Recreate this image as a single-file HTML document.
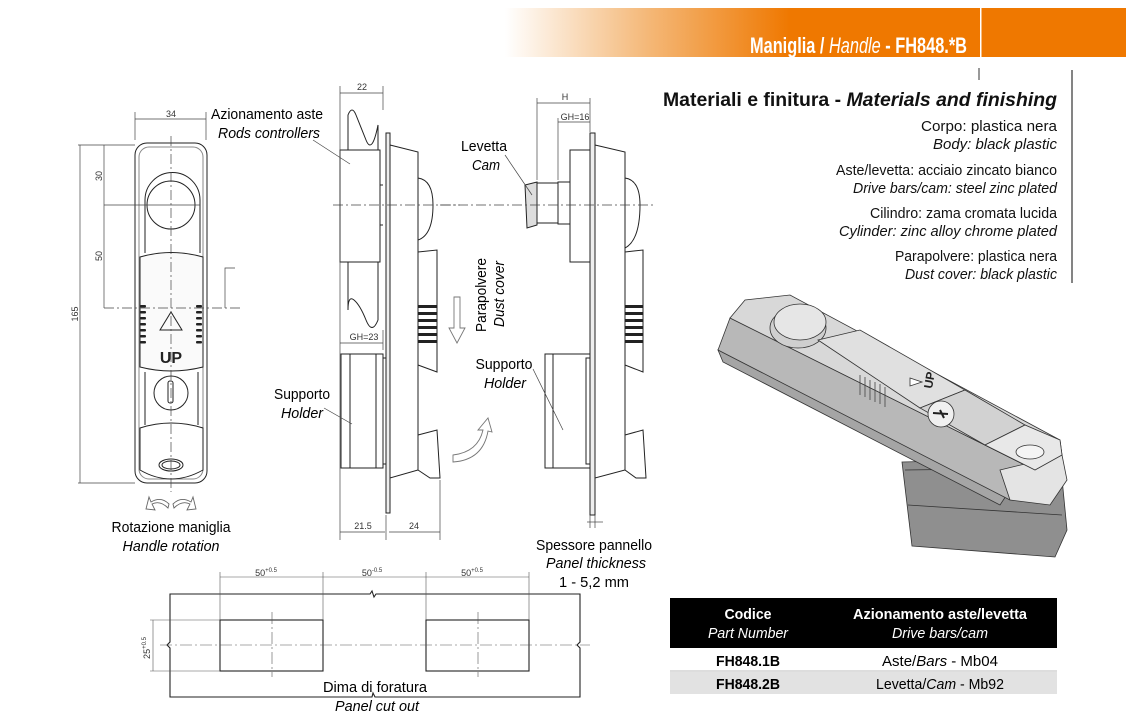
<!DOCTYPE html>
<html><head><meta charset="utf-8"><style>
html,body{margin:0;padding:0;background:#fff}
svg{display:block}
text{font-family:"Liberation Sans",sans-serif}
</style></head><body>
<svg width="1126" height="728" viewBox="0 0 1126 728" xmlns="http://www.w3.org/2000/svg">
<defs>
<linearGradient id="hg" x1="505" x2="790" y1="0" y2="0" gradientUnits="userSpaceOnUse">
<stop offset="0" stop-color="#fff"/><stop offset="0.5" stop-color="#f4b878"/><stop offset="1" stop-color="#ef7800"/></linearGradient>
</defs>
<!-- header -->
<rect x="505" y="8" width="621" height="49" fill="url(#hg)"/>
<rect x="980" y="8" width="1.5" height="49" fill="#fff"/>
<text x="967" y="53" font-size="22" font-weight="bold" fill="#fff" text-anchor="end" textLength="217" lengthAdjust="spacingAndGlyphs">Maniglia / <tspan font-style="italic" font-weight="normal">Handle</tspan> - FH848.*B</text>
<line x1="979" y1="68" x2="979" y2="80" stroke="#333"/>
<line x1="1072" y1="70" x2="1072" y2="283" stroke="#333" stroke-width="1.2"/>

<!-- materials -->
<g font-size="15" text-anchor="end" fill="#111">
<text x="1057" y="106" font-size="19" font-weight="bold" textLength="394" lengthAdjust="spacingAndGlyphs">Materiali e finitura - <tspan font-style="italic">Materials and finishing</tspan></text>
<text x="1057" y="131" textLength="136" lengthAdjust="spacingAndGlyphs">Corpo: plastica nera</text>
<text x="1057" y="149" font-style="italic" textLength="124" lengthAdjust="spacingAndGlyphs">Body: black plastic</text>
<text x="1057" y="175" textLength="221" lengthAdjust="spacingAndGlyphs">Aste/levetta: acciaio zincato bianco</text>
<text x="1057" y="193" font-style="italic" textLength="204" lengthAdjust="spacingAndGlyphs">Drive bars/cam: steel zinc plated</text>
<text x="1057" y="218" textLength="187" lengthAdjust="spacingAndGlyphs">Cilindro: zama cromata lucida</text>
<text x="1057" y="236" font-style="italic" textLength="218" lengthAdjust="spacingAndGlyphs">Cylinder: zinc alloy chrome plated</text>
<text x="1057" y="261" textLength="162" lengthAdjust="spacingAndGlyphs">Parapolvere: plastica nera</text>
<text x="1057" y="279" font-style="italic" textLength="152" lengthAdjust="spacingAndGlyphs">Dust cover: black plastic</text>
</g>

<!-- LEFT FRONT VIEW -->
<g fill="none" stroke="#222" stroke-width="1">
<rect x="135" y="143" width="72" height="340" rx="12"/>
<rect x="139" y="147" width="64" height="332" rx="10" stroke="#888"/>
<path d="M145 253 V200 a26 26 0 0 1 55 0 V253"/>
<circle cx="171" cy="205" r="24"/>
<path d="M140 257 Q171 248 203 257 V367 Q171 375 140 367 Z" fill="#fafafa"/>
<path d="M145 372 V425 M198 372 V425"/>
<circle cx="171" cy="393" r="17"/>
<rect x="168" y="381" width="5" height="22" rx="2"/>
<path d="M140 428 Q171 418 203 428 V470 Q171 488 140 470 Z"/>
<ellipse cx="171" cy="465" rx="12" ry="6"/>
<ellipse cx="171" cy="465" rx="9" ry="4"/>
<path d="M160 330 L171 312 L182 330 Z"/>
</g>
<g fill="#222">
<rect x="140" y="305" width="6" height="2.5" rx="1"/><rect x="140" y="311" width="6" height="2.5" rx="1"/><rect x="140" y="317" width="6" height="2.5" rx="1"/><rect x="140" y="323" width="6" height="2.5" rx="1"/><rect x="140" y="329" width="6" height="2.5" rx="1"/><rect x="140" y="335" width="6" height="2.5" rx="1"/><rect x="140" y="341" width="6" height="2.5" rx="1"/>
<rect x="196" y="305" width="6" height="2.5" rx="1"/><rect x="196" y="311" width="6" height="2.5" rx="1"/><rect x="196" y="317" width="6" height="2.5" rx="1"/><rect x="196" y="323" width="6" height="2.5" rx="1"/><rect x="196" y="329" width="6" height="2.5" rx="1"/><rect x="196" y="335" width="6" height="2.5" rx="1"/><rect x="196" y="341" width="6" height="2.5" rx="1"/>
</g>
<text x="171" y="363" font-size="16" font-weight="bold" text-anchor="middle" fill="#222">UP</text>
<!-- dims left -->
<g stroke="#444" stroke-width="0.7" fill="none">
<line x1="171" y1="136" x2="171" y2="492" stroke-dasharray="10 3 2 3"/>
<line x1="104" y1="205" x2="200" y2="205"/>
<line x1="104" y1="308" x2="240" y2="308" stroke-dasharray="10 3 2 3"/>
<line x1="135" y1="112" x2="135" y2="140"/><line x1="206" y1="112" x2="206" y2="140"/>
<line x1="135" y1="119" x2="206" y2="119"/>
<line x1="78" y1="145" x2="135" y2="145"/><line x1="78" y1="483" x2="135" y2="483"/>
<line x1="80" y1="145" x2="80" y2="483"/>
<line x1="104" y1="145" x2="104" y2="308"/>
<path d="M225 308 V268 H235"/>
</g>
<g font-size="9" fill="#333" text-anchor="middle">
<text x="171" y="117">34</text>
<text transform="translate(102 176) rotate(-90)">30</text>
<text transform="translate(102 256) rotate(-90)">50</text>
<text transform="translate(78 314) rotate(-90)">165</text>
</g>
<!-- rotation arrows -->
<g fill="#fff" stroke="#666" stroke-width="0.9">
<path d="M168 508 Q160 500 152 504 L155 510 L146 509 L149 497 L151 502 Q161 496 169 504 Z"/>
<path d="M174 508 Q182 500 190 504 L187 510 L196 509 L193 497 L191 502 Q181 496 173 504 Z"/>
</g>
<text x="171" y="532" font-size="15" text-anchor="middle" textLength="119" lengthAdjust="spacingAndGlyphs">Rotazione maniglia</text>
<text x="171" y="551" font-size="15" text-anchor="middle" font-style="italic" textLength="97" lengthAdjust="spacingAndGlyphs">Handle rotation</text>

<!-- SIDE VIEW 1 -->
<g fill="none" stroke="#222" stroke-width="1">
<path d="M348 115 Q352 105 356 115 T366 140 T378 125 V320 Q372 335 366 320 T354 300 T348 310 Z" fill="#fff"/>
<rect x="340" y="150" width="40" height="112" fill="#fff"/>
<line x1="380" y1="185" x2="383" y2="185"/><line x1="380" y1="225" x2="383" y2="225"/>
<rect x="386" y="133" width="4" height="380" fill="#eee"/>
<path d="M390 145 L418 152 V470 L390 478 Z" fill="#fff"/>
<path d="M418 178 Q433 180 433 205 Q433 235 418 240"/>
<path d="M418 252 L437 250 V372 L418 365 Z" fill="#fff"/>
<path d="M418 435 L437 430 L440 478 H430 L418 470"/>
<rect x="341" y="354" width="42" height="114" fill="#fff"/>
<line x1="350" y1="354" x2="350" y2="468"/>
<line x1="376" y1="354" x2="376" y2="468"/>
<rect x="383" y="358" width="3" height="106"/>
</g>
<g fill="#222"><rect x="418" y="305" width="19" height="3"/><rect x="418" y="312" width="19" height="3"/><rect x="418" y="319" width="19" height="3"/><rect x="418" y="326" width="19" height="3"/><rect x="418" y="333" width="19" height="3"/><rect x="418" y="340" width="19" height="3"/></g>
<g stroke="#444" stroke-width="0.7" fill="none">
<line x1="333" y1="205" x2="460" y2="205" stroke-dasharray="10 3 2 3"/>
<line x1="340" y1="86" x2="340" y2="540"/><line x1="383" y1="86" x2="383" y2="110"/>
<line x1="340" y1="93" x2="383" y2="93"/>
<line x1="340" y1="343" x2="383" y2="343"/>
<line x1="383" y1="330" x2="383" y2="350"/>
<line x1="340" y1="532" x2="385" y2="532"/><line x1="389" y1="532" x2="440" y2="532"/>
<line x1="386" y1="515" x2="386" y2="540"/><line x1="440" y1="480" x2="440" y2="540"/>
<line x1="313" y1="140" x2="350" y2="164"/>
<line x1="324" y1="408" x2="352" y2="424"/>
</g>
<g font-size="9" fill="#333" text-anchor="middle">
<text x="362" y="90">22</text><text x="364" y="340">GH=23</text>
<text x="363" y="529">21.5</text><text x="414" y="529">24</text>
</g>
<text x="323" y="119" font-size="15" text-anchor="end" textLength="112" lengthAdjust="spacingAndGlyphs">Azionamento aste</text>
<text x="320" y="138" font-size="15" text-anchor="end" font-style="italic" textLength="102" lengthAdjust="spacingAndGlyphs">Rods controllers</text>
<text x="330" y="399" font-size="15" text-anchor="end" textLength="56" lengthAdjust="spacingAndGlyphs">Supporto</text>
<text x="323" y="418" font-size="15" text-anchor="end" font-style="italic" textLength="42" lengthAdjust="spacingAndGlyphs">Holder</text>

<!-- SIDE VIEW 2 -->
<g fill="none" stroke="#222" stroke-width="1">
<rect x="590" y="133" width="5" height="382" fill="#eee"/>
<path d="M595 145 L625 152 V470 L595 478 Z" fill="#fff"/>
<path d="M625 178 Q640 180 640 205 Q640 240 625 248"/>
<path d="M625 252 L643 250 V372 L625 365 Z" fill="#fff"/>
<path d="M625 435 L643 430 L646 478 H636 L625 470"/>
<rect x="570" y="150" width="20" height="112" fill="#fff"/>
<rect x="558" y="182" width="12" height="42" fill="#fff"/>
<rect x="537" y="183" width="21" height="40" fill="#fff"/>
<path d="M525 185 L537 182 V225 L527 228 Z" fill="#ddd"/>
<rect x="545" y="354" width="45" height="114" fill="#fff"/>
<line x1="553" y1="354" x2="553" y2="468"/>
<rect x="586" y="358" width="4" height="106"/>
</g>
<g fill="#222"><rect x="625" y="305" width="18" height="3"/><rect x="625" y="312" width="18" height="3"/><rect x="625" y="319" width="18" height="3"/><rect x="625" y="326" width="18" height="3"/><rect x="625" y="333" width="18" height="3"/><rect x="625" y="340" width="18" height="3"/></g>
<g stroke="#444" stroke-width="0.7" fill="none">
<line x1="440" y1="205" x2="655" y2="205" stroke-dasharray="10 3 2 3"/>
<line x1="537" y1="98" x2="537" y2="180"/><line x1="590" y1="98" x2="590" y2="132"/>
<line x1="537" y1="103" x2="590" y2="103"/>
<line x1="558" y1="118" x2="558" y2="180"/>
<line x1="558" y1="122" x2="590" y2="122"/>
<line x1="505" y1="155" x2="532" y2="195"/>
<line x1="533" y1="369" x2="563" y2="430"/>
<line x1="587" y1="522" x2="603" y2="522"/>
<line x1="590" y1="515" x2="590" y2="528"/><line x1="595" y1="515" x2="595" y2="528"/>
</g>
<g font-size="9" fill="#333" text-anchor="middle"><text x="565" y="100">H</text><text x="575" y="120">GH=16</text></g>
<g fill="#fff" stroke="#777" stroke-width="0.9">
<path d="M454 297 H460 V328 H465 L457 343 L449 328 H454 Z"/>
<path d="M453 455 Q478 452 483 430 L478 430 L488 418 L492 432 L488 431 Q483 460 453 462 Z"/>
</g>
<text x="484" y="151" font-size="15" text-anchor="middle" textLength="46" lengthAdjust="spacingAndGlyphs">Levetta</text>
<text x="486" y="170" font-size="15" text-anchor="middle" font-style="italic" textLength="28" lengthAdjust="spacingAndGlyphs">Cam</text>
<text transform="translate(486 295) rotate(-90)" font-size="15" text-anchor="middle" textLength="74" lengthAdjust="spacingAndGlyphs">Parapolvere</text>
<text transform="translate(504 294) rotate(-90)" font-size="15" text-anchor="middle" font-style="italic" textLength="66" lengthAdjust="spacingAndGlyphs">Dust cover</text>
<text x="504" y="369" font-size="15" text-anchor="middle" textLength="57" lengthAdjust="spacingAndGlyphs">Supporto</text>
<text x="505" y="388" font-size="15" text-anchor="middle" font-style="italic" textLength="42" lengthAdjust="spacingAndGlyphs">Holder</text>
<text x="594" y="550" font-size="15" text-anchor="middle" textLength="116" lengthAdjust="spacingAndGlyphs">Spessore pannello</text>
<text x="596" y="568" font-size="15" text-anchor="middle" font-style="italic" textLength="100" lengthAdjust="spacingAndGlyphs">Panel thickness</text>
<text x="594" y="587" font-size="15" text-anchor="middle" textLength="70" lengthAdjust="spacingAndGlyphs">1 - 5,2 mm</text>

<!-- 3D render -->
<g stroke="#333" stroke-width="0.8">
<path d="M902 462 L1060 458 L1067 530 L1055 557 L912 546 Z" fill="#8f8f8f"/>
<path d="M905 470 L1062 468" fill="none"/>
<path d="M908 505 L1062 515" fill="none"/>
<path d="M718 350 L723 362 L1000 505 L1020 475 Z" fill="#a5a5a5"/>
<path d="M718 350 L730 318 L1035 470 L1010 500 Z" fill="#b8b8b8"/>
<path d="M730 318 L745 300 L790 295 L1060 440 L1062 455 L1035 470 Z" fill="#d8d8d8"/>
<path d="M1000 470 L1062 455 L1067 480 L1050 505 L1010 500 Z" fill="#e4e4e4"/>
<ellipse cx="798" cy="328" rx="28" ry="20" fill="#cfcfcf"/>
<ellipse cx="800" cy="322" rx="26" ry="18" fill="#e6e6e6"/>
<path d="M818 340 L860 330 L965 390 L920 408 Z" fill="#e0e0e0"/>
<path d="M920 408 L965 390 L1025 425 L985 445 Z" fill="#d2d2d2"/>
<path d="M985 445 L1025 425 L1060 440 L1062 455 L1035 470 Z" fill="#e8e8e8"/>
<ellipse cx="1030" cy="452" rx="14" ry="7" fill="#f4f4f4"/>
<circle cx="941" cy="414" r="13" fill="#f0f0f0"/>
<path d="M933 413 L948 414 M940 410 L944 418" stroke="#222" stroke-width="2"/>
<path d="M910 378 L922 382 L910 386 Z" fill="#fff"/>
<path d="M860 375 V395 M865 377 V397 M870 380 V400 M875 382 V402 M880 384 V404 M885 387 V407" stroke="#444"/>
</g>
<text x="932" y="389" font-size="12" font-weight="bold" fill="#222" transform="rotate(-80 932 389)">UP</text>

<!-- panel cutout -->
<g fill="none" stroke="#222" stroke-width="1.1">
<path d="M170 594 H370 l2 -3 l2 6 l2 -3 H580 V642 l-3 3 l3 3 V697 H375 l-2 -4 l-1 4 H170 V648 l-3 -3 l3 -3 Z"/>
<rect x="220" y="620" width="103" height="51"/>
<rect x="426" y="620" width="103" height="51"/>
</g>
<g stroke="#555" stroke-width="0.6" fill="none">
<line x1="160" y1="645" x2="590" y2="645" stroke-dasharray="12 3 2 3"/>
<line x1="272" y1="612" x2="272" y2="677" stroke-dasharray="12 3 2 3"/>
<line x1="478" y1="612" x2="478" y2="677" stroke-dasharray="12 3 2 3"/>
<line x1="220" y1="572" x2="220" y2="620"/><line x1="323" y1="572" x2="323" y2="620"/>
<line x1="426" y1="572" x2="426" y2="620"/><line x1="529" y1="572" x2="529" y2="620"/>
<line x1="220" y1="577" x2="529" y2="577"/>
<line x1="150" y1="620" x2="220" y2="620"/><line x1="150" y1="671" x2="220" y2="671"/>
<line x1="153" y1="620" x2="153" y2="671"/>
</g>
<g font-size="9" fill="#333" text-anchor="middle">
<text x="266" y="576">50<tspan font-size="6" dy="-4">+0.5</tspan></text>
<text x="372" y="576">50<tspan font-size="6" dy="-4">-0.5</tspan></text>
<text x="472" y="576">50<tspan font-size="6" dy="-4">+0.5</tspan></text>
<text transform="translate(150 648) rotate(-90)">25<tspan font-size="6" dy="-4">+0.5</tspan></text>
</g>
<text x="375" y="692" font-size="15" text-anchor="middle" textLength="104" lengthAdjust="spacingAndGlyphs">Dima di foratura</text>
<text x="377" y="711" font-size="15" text-anchor="middle" font-style="italic" textLength="84" lengthAdjust="spacingAndGlyphs">Panel cut out</text>

<!-- table -->
<rect x="670" y="598" width="387" height="50" fill="#000"/>
<rect x="670" y="672" width="387" height="22" fill="#e2e2e2"/>
<line x1="670" y1="671" x2="1057" y2="671" stroke="#bbb"/>
<g font-size="15" text-anchor="middle">
<text x="748" y="619" fill="#fff" font-weight="bold" textLength="47" lengthAdjust="spacingAndGlyphs">Codice</text>
<text x="748" y="638" fill="#fff" font-style="italic" textLength="80" lengthAdjust="spacingAndGlyphs">Part Number</text>
<text x="940" y="619" fill="#fff" font-weight="bold" textLength="174" lengthAdjust="spacingAndGlyphs">Azionamento aste/levetta</text>
<text x="940" y="638" fill="#fff" font-style="italic" textLength="96" lengthAdjust="spacingAndGlyphs">Drive bars/cam</text>
<text x="748" y="666" font-weight="bold" textLength="64" lengthAdjust="spacingAndGlyphs">FH848.1B</text>
<text x="940" y="666" textLength="116" lengthAdjust="spacingAndGlyphs">Aste/<tspan font-style="italic">Bars</tspan> - Mb04</text>
<text x="748" y="689" font-weight="bold" textLength="64" lengthAdjust="spacingAndGlyphs">FH848.2B</text>
<text x="940" y="689" textLength="128" lengthAdjust="spacingAndGlyphs">Levetta/<tspan font-style="italic">Cam</tspan> - Mb92</text>
</g>
</svg>
</body></html>
